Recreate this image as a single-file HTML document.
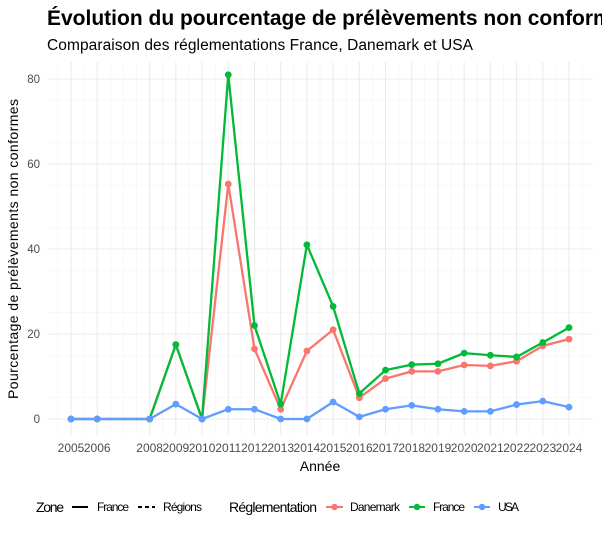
<!DOCTYPE html>
<html><head><meta charset="utf-8"><style>
body{margin:0;background:#fff;font-family:"Liberation Sans",sans-serif;}
svg{display:block}
</style></head><body>
<svg id="chart" width="602" height="533" viewBox="0 0 602 533">
<text x="47" y="25" font-size="21" font-weight="bold" fill="#000">Évolution du pourcentage de prélèvements non conformes</text>
<text x="47" y="50" font-size="15.5" fill="#000" textLength="426">Comparaison des réglementations France, Danemark et USA</text>
<g id="grid"></g>
<g id="series"></g>
<g id="axes"></g>
<text x="0" y="0" transform="translate(18,249) rotate(-90)" text-anchor="middle" font-size="14" fill="#000" textLength="300">Pourcentage de prélèvements non conformes</text>
<text x="320" y="471" text-anchor="middle" font-size="14" fill="#000">Année</text>
<g font-size="12">
<text x="36" y="512" font-size="14" textLength="28">Zone</text>
<line x1="72" y1="507" x2="88" y2="507" stroke="#000" stroke-width="2"/>
<text x="97" y="511" textLength="32">France</text>
<line x1="138" y1="507" x2="155" y2="507" stroke="#000" stroke-width="2" stroke-dasharray="4,3"/>
<text x="163" y="511" textLength="39">Régions</text>
<text x="229" y="512" font-size="14" textLength="88">Réglementation</text>
<line x1="326" y1="507" x2="343" y2="507" stroke="#F8766D" stroke-width="2"/><circle cx="334.5" cy="507" r="3.2" fill="#F8766D"/>
<text x="350" y="511" textLength="50">Danemark</text>
<line x1="409" y1="507" x2="425" y2="507" stroke="#00BA38" stroke-width="2"/><circle cx="417" cy="507" r="3.2" fill="#00BA38"/>
<text x="433" y="511" textLength="32">France</text>
<line x1="474" y1="507" x2="490" y2="507" stroke="#619CFF" stroke-width="2"/><circle cx="482" cy="507" r="3.2" fill="#619CFF"/>
<text x="498" y="511" textLength="21">USA</text>
</g>
</svg>
<script>
const years=[2005,2006,2008,2009,2010,2011,2012,2013,2014,2015,2016,2017,2018,2019,2020,2021,2022,2023,2024];
const danemark=[0,0,0,17.5,0,55.3,16.5,2.3,16,21,5,9.5,11.2,11.2,12.7,12.5,13.6,17.2,18.8];
const france=[0,0,0,17.5,0,81,22,3.5,41,26.5,6,11.5,12.8,13,15.5,15,14.6,18,21.5];
const usa=[0,0,0,3.5,0,2.3,2.3,0,0,4,0.5,2.3,3.2,2.3,1.8,1.8,3.4,4.2,2.8];
const yTicks=[0,20,40,60,80];
const NS="http://www.w3.org/2000/svg";
const X=v=>71+(v-2005)*(569-71)/19;
const Y=v=>419-v*(419-79)/80;
const L={x0:47,x1:593,y0:62,y1:435};
function mk(t,a,p){const e=document.createElementNS(NS,t);for(const k in a)e.setAttribute(k,a[k]);p.appendChild(e);return e;}
const grid=document.getElementById('grid'),axes=document.getElementById('axes'),ser=document.getElementById('series');
for(let v=-5;v<=85;v+=10){const y=Y(v);if(y<L.y0||y>L.y1)continue;
 const g=mk('line',{x1:L.x0,x2:L.x1,y1:y,y2:y,stroke:'#f0f0f0','stroke-width':0.6},grid);
 
 }
yTicks.forEach(v=>{const y=Y(v);
 const g=mk('line',{x1:L.x0,x2:L.x1,y1:y,y2:y,stroke:'#ebebeb','stroke-width':1.1},grid);
 
 
 const t=mk('text',{x:40,y:y+4,'text-anchor':'end','font-size':11.5,fill:'#4d4d4d'},axes);t.textContent=v;
 
 });
for(let v=2004;v<=2025;v+=0.5){const x=X(v);if(x<L.x0||x>L.x1)continue;
 const major=years.includes(v);
 const g=mk('line',{x1:x,x2:x,y1:L.y0,y2:L.y1,stroke:major?'#ebebeb':'#f0f0f0','stroke-width':major?1.1:0.6},grid);
 
 }
years.forEach(v=>{const t=mk('text',{x:X(v),y:452,'text-anchor':'middle','font-size':12,fill:'#4d4d4d'},axes);t.textContent=v;
 
 });
function draw(vals,col,name){
 const g=mk('g',{},ser);
 
 
 const p=mk('polyline',{points:vals.map((v,i)=>X(years[i])+','+Y(v)).join(' '),fill:'none',stroke:col,'stroke-width':2.3,'stroke-linejoin':'round'},g);
 
 
 vals.forEach((v,i)=>{const c=mk('circle',{cx:X(years[i]),cy:Y(v),r:3.4,fill:col},g);
  
  });
}
draw(danemark,'#F8766D','danemark');
draw(france,'#00BA38','france');
draw(usa,'#619CFF','usa');
</script>
</body></html>
